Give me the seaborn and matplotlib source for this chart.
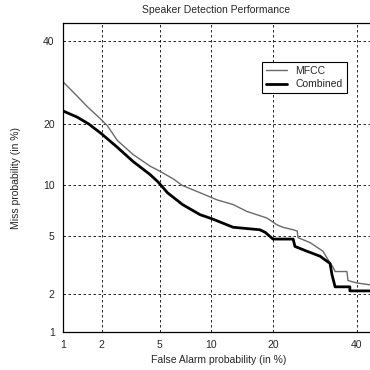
import numpy as np
import pandas as pd
import matplotlib
matplotlib.use("Agg")
import matplotlib.pyplot as plt
import seaborn as sns
from statistics import NormalDist

# ---- data (percent) ----
mfcc_fa = [1.0, 1.3, 1.55, 1.95, 2.2, 2.6, 3.35, 4.35, 5.0, 6.1, 6.85, 8.7, 10.75, 13.0, 15.2,
           18.7, 20.7, 21.9, 24.1, 25.0, 25.2, 28.0, 31.1, 32.4, 33.7, 34.2, 37.3, 37.6, 40.0, 43.6]
mfcc_miss = [29.3, 25.9, 23.6, 21.0, 19.6, 16.8, 14.4, 12.6, 11.9, 10.8, 10.0, 9.1, 8.3, 7.8, 7.1,
             6.5, 5.9, 5.7, 5.5, 5.4, 4.9, 4.55, 4.0, 3.5, 3.1, 2.9, 2.9, 2.5, 2.4, 2.33]
comb_fa = [1.0, 1.3, 1.6, 2.0, 2.6, 3.35, 4.35, 4.9, 5.6, 6.9, 8.7, 10.2, 13.0, 17.4, 18.4,
           19.9, 24.1, 24.5, 27.2, 30.4, 32.9, 33.4, 34.2, 38.1, 38.1, 43.6]
comb_miss = [22.6, 21.3, 19.9, 18.0, 15.6, 13.3, 11.4, 10.4, 9.1, 7.8, 6.8, 6.4, 5.7, 5.5, 5.3,
             4.8, 4.8, 4.3, 4.0, 3.7, 3.3, 2.75, 2.25, 2.25, 2.1, 2.1]
tick_vals = [1, 2, 5, 10, 20, 40]
tick_labels = ["1", "2", "5", "10", "20", "40"]

_nd = NormalDist()
_vinv = np.vectorize(_nd.inv_cdf, otypes=[float])
_vcdf = np.vectorize(_nd.cdf, otypes=[float])
def _fwd(p):
    p = np.clip(np.asarray(p, dtype=float) / 100.0, 1e-6, 1 - 1e-6)
    return _vinv(p)
def _inv(z):
    return _vcdf(np.asarray(z, dtype=float)) * 100.0

sns.set_style("white")
plt.rcParams['font.family'] = ['Liberation Sans', 'DejaVu Sans']

fig = plt.figure(figsize=(3.7, 3.7), dpi=100)
ax = fig.add_axes([63/370, 1 - 332/370, 312/370, 309/370])
ax.set_xscale('function', functions=(_fwd, _inv))
ax.set_yscale('function', functions=(_fwd, _inv))

df_m = pd.DataFrame({"fa": mfcc_fa, "miss": mfcc_miss})
df_c = pd.DataFrame({"fa": comb_fa, "miss": comb_miss})
sns.lineplot(data=df_m, x="fa", y="miss", estimator=None, sort=False, ax=ax,
             color="#6a6a6a", linewidth=1.0, label="MFCC")
sns.lineplot(data=df_c, x="fa", y="miss", estimator=None, sort=False, ax=ax,
             color="black", linewidth=2.0, label="Combined")

ax.set_xlim(1, 45)
ax.set_ylim(1, 45)
ax.set_xticks(tick_vals)
ax.set_xticklabels(tick_labels)
ax.set_yticks(tick_vals)
ax.set_yticklabels(tick_labels)
ax.minorticks_off()
ax.tick_params(length=0, labelsize=7.5, pad=6)
ax.grid(True, color="black", linestyle=(0, (3, 3)), linewidth=0.6)
for s in ax.spines.values():
    s.set_color("black")
    s.set_linewidth(0.9)

ax.set_xlabel("False Alarm probability (in %)", fontsize=7.5)
ax.set_ylabel("Miss probability (in %)", fontsize=7.5)
ax.xaxis.set_label_coords(0.5, -0.075)
ax.yaxis.set_label_coords(-0.135, 0.5)
ax.set_title("Speaker Detection Performance", fontsize=7.5, pad=7, x=0.49)

leg = ax.legend(loc="upper left", bbox_to_anchor=(0.638, 0.874), fontsize=7.5,
                frameon=True, fancybox=False, edgecolor="black", framealpha=1,
                handlelength=2.0, borderpad=0.4, labelspacing=0.3, borderaxespad=0)
leg.get_frame().set_linewidth(0.8)

fig.savefig("out.png", dpi=100)
